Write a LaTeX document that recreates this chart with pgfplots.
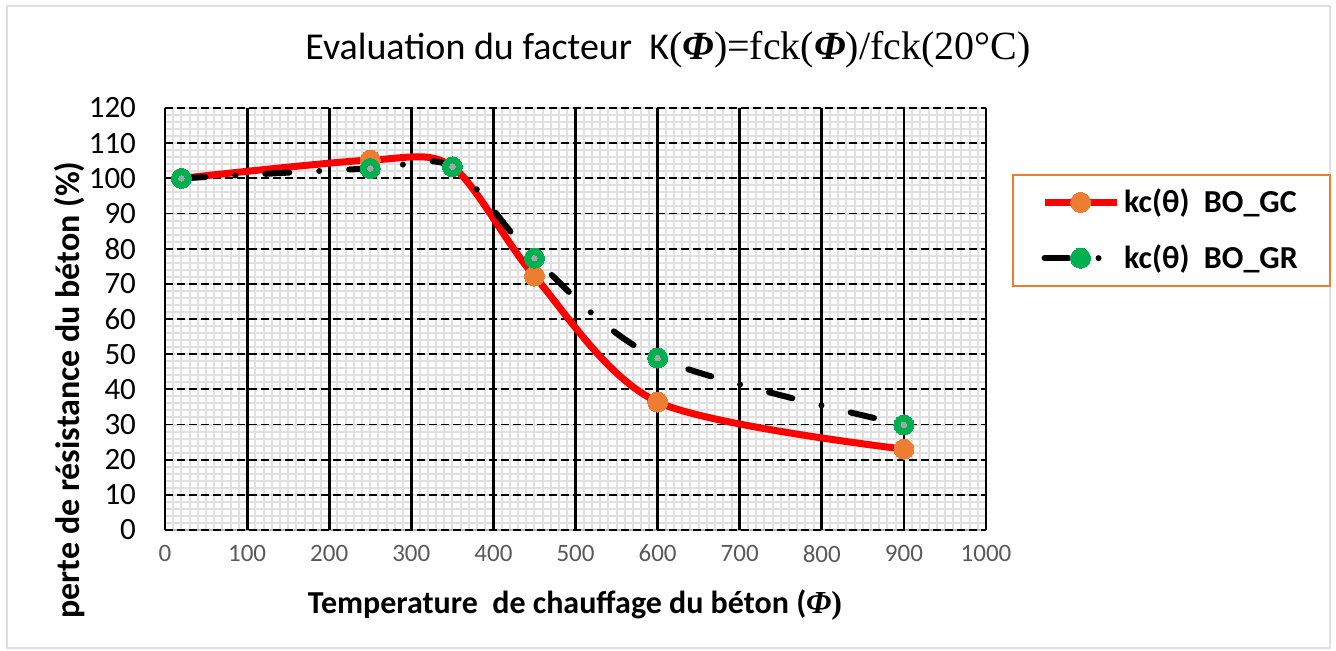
\documentclass[border=0pt]{standalone}
\usepackage{fontspec}
\setmainfont{Carlito}
\newfontfamily\serif{Liberation Serif}
\usepackage{pgfplots}
\pgfplotsset{compat=1.18}
\definecolor{xorange}{HTML}{ED7D31}
\definecolor{xgreen}{HTML}{00B050}
\definecolor{xgrid}{HTML}{E0E0E0}
\definecolor{xticktext}{HTML}{595959}
\begin{document}
\begin{tikzpicture}
\path (0,0) rectangle (668pt,325pt);
\draw[color=gray!25, line width=1pt] (3.5pt,1pt) rectangle (665pt,322pt);
\begin{axis}[at={(82.5pt,60pt)}, anchor=south west, width=410.5pt, height=211pt, scale only axis,
  xmin=0, xmax=1000, ymin=0, ymax=120,
  xtick={0,10,...,1000}, ytick={0,2,...,120},
  xticklabels={}, yticklabels={},
  grid=major,
  major grid style={xgrid, line width=1pt},
  extra x ticks={0,100,200,300,400,500,600,700,800,900,1000},
  extra x tick labels={0,100,200,300,400,500,600,700,800,900,1000},
  extra x tick style={grid=major, major grid style={black, line width=1.4pt, solid}},
  extra y ticks={0,10,20,30,40,50,60,70,80,90,100,110,120},
  extra y tick labels={0,10,20,30,40,50,60,70,80,90,100,110,120},
  extra y tick style={grid=major, major grid style={black, line width=0.9pt, dash pattern=on 4pt off 2pt}},
  axis x line*=bottom, axis y line*=left,
  x axis line style={-, gray!60, line width=1pt},
  y axis line style={-, black, line width=1.4pt},
  tick style={draw=none},
  xticklabel style={font=\fontsize{12.5}{13}\selectfont, text=xticktext, yshift=-4pt},
  yticklabel style={font=\fontsize{15.5}{16}\selectfont, xshift=-11pt},
  legend style={at={(1.0317,0.8436)}, anchor=north west, draw=xorange, line width=1pt,
    inner xsep=14pt, inner ysep=5pt, row sep=10.5pt,
    font=\fontsize{16}{18}\selectfont\bfseries},
  legend cell align=left,
  legend image code/.code={\draw[mark repeat=2,mark phase=2,#1] plot coordinates {(0pt,0pt) (18pt,0pt) (36pt,0pt)};},
]
\addplot[red, line width=3.5pt, smooth, tension=0.5, mark=*, mark size=5pt, mark options={fill=xorange, draw=xorange, line width=0pt, solid}]
  coordinates {(20,100) (250,105.2) (350,103.3) (450,72.2) (600,36.4) (900,23)};
\addlegendentry{kc(θ)\ \ BO\_GC}
\addplot[black, line width=3pt, line cap=round, dash pattern=on 12pt off 15pt on 0pt off 15pt, smooth, tension=0.5, mark=*, mark size=5pt, mark options={fill=xgreen, draw=xgreen, line width=0pt, solid}]
  coordinates {(20,100) (250,102.8) (350,103.3) (450,77.3) (600,48.9) (900,29.9)};
\addlegendentry{kc(θ)\ \ BO\_GR}
\addplot[only marks, mark=*, mark size=1.4pt, mark options={fill=gray!70, draw=gray!70, line width=0pt}, forget plot]
  coordinates {(20,100) (250,102.8) (350,103.3) (450,77.3) (600,48.9) (900,29.9)};
\end{axis}
\node[rotate=90, font=\fontsize{17}{18}\selectfont\bfseries] at (35pt,130pt) {perte de résistance du béton (\%)};
\node[font=\fontsize{16}{18}\selectfont\bfseries] at (287.5pt,22.5pt) {Temperature\ \ de chauffage du béton ({\serif\bfseries\itshape Φ}{\serif )}};
\node[font=\fontsize{19}{22}\selectfont] at (334pt,300pt) {Evaluation du facteur\ \ K{\serif\fontsize{20}{22}\selectfont (\textbf{\itshape Φ})=fck(\textbf{\itshape Φ})/fck(20°C)}};
\end{tikzpicture}
\end{document}
